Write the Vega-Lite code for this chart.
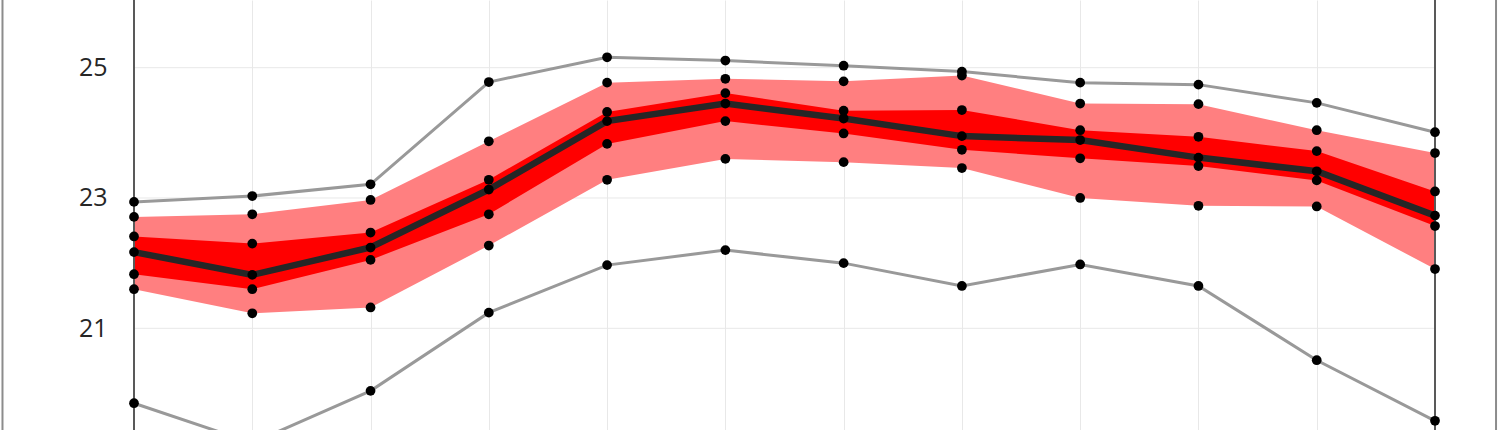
{
  "$schema": "https://vega.github.io/schema/vega-lite/v6.json",
  "autosize": "none",
  "width": 1301,
  "height": 430,
  "padding": {"left": 134, "top": 0, "right": 65, "bottom": 0},
  "background": "white",
  "config": {
    "view": {"stroke": null},
    "font": "Open Sans",
    "axisX": {"grid": true, "gridColor": "#e8e8e8", "gridWidth": 1, "labels": false, "ticks": false, "domain": false, "title": null},
    "axisY": {"grid": false, "domain": false, "ticks": false, "labelFontSize": 25, "labelFont": "Open Sans", "labelFontWeight": "normal", "labelColor": "#262626", "labelPadding": 27, "title": null}
  },
  "datasets": {
    "stats": [
      {"month": 1, "max": 22.94, "p90": 22.71, "p75": 22.41, "median": 22.17, "p25": 21.83, "p10": 21.60, "min": 19.85},
      {"month": 2, "max": 23.03, "p90": 22.75, "p75": 22.30, "median": 21.82, "p25": 21.60, "p10": 21.23, "min": 19.24},
      {"month": 3, "max": 23.21, "p90": 22.97, "p75": 22.47, "median": 22.24, "p25": 22.05, "p10": 21.32, "min": 20.04},
      {"month": 4, "max": 24.78, "p90": 23.87, "p75": 23.28, "median": 23.13, "p25": 22.75, "p10": 22.27, "min": 21.24},
      {"month": 5, "max": 25.16, "p90": 24.77, "p75": 24.32, "median": 24.18, "p25": 23.83, "p10": 23.28, "min": 21.97},
      {"month": 6, "max": 25.11, "p90": 24.83, "p75": 24.61, "median": 24.45, "p25": 24.18, "p10": 23.60, "min": 22.20},
      {"month": 7, "max": 25.03, "p90": 24.79, "p75": 24.34, "median": 24.22, "p25": 23.99, "p10": 23.55, "min": 22.00},
      {"month": 8, "max": 24.94, "p90": 24.88, "p75": 24.35, "median": 23.95, "p25": 23.74, "p10": 23.46, "min": 21.65},
      {"month": 9, "max": 24.77, "p90": 24.45, "p75": 24.04, "median": 23.89, "p25": 23.61, "p10": 23.00, "min": 21.98},
      {"month": 10, "max": 24.74, "p90": 24.44, "p75": 23.94, "median": 23.62, "p25": 23.49, "p10": 22.88, "min": 21.65},
      {"month": 11, "max": 24.46, "p90": 24.04, "p75": 23.72, "median": 23.41, "p25": 23.27, "p10": 22.87, "min": 20.51},
      {"month": 12, "max": 24.01, "p90": 23.69, "p75": 23.10, "median": 22.73, "p25": 22.57, "p10": 21.91, "min": 19.58}
    ],
    "gridY": [{"y": 21}, {"y": 23}, {"y": 25}],
    "frame": [
      {"x": -0.112, "kind": "outer"},
      {"x": 12.516, "kind": "outer"},
      {"x": 1, "kind": "plot"},
      {"x": 12, "kind": "plot"}
    ]
  },
  "layer": [
    {
      "data": {"name": "gridY"},
      "mark": {"type": "rule", "color": "#e8e8e8", "strokeWidth": 1},
      "encoding": {
        "x": {"datum": 1, "type": "quantitative", "scale": {"domain": [1, 12], "nice": false, "zero": false}, "axis": {"values": [1,2,3,4,5,6,7,8,9,10,11,12]}},
        "x2": {"datum": 12},
        "y": {"field": "y", "type": "quantitative", "scale": {"domain": [19.439, 26.039], "nice": false, "zero": false}, "axis": {"values": [21, 23, 25], "format": "d"}}
      }
    },
    {
      "data": {"name": "stats"},
      "mark": {"type": "area", "color": "#ff7f80", "opacity": 1},
      "encoding": {
        "x": {"field": "month", "type": "quantitative"},
        "y": {"field": "p10", "type": "quantitative"},
        "y2": {"field": "p90"}
      }
    },
    {
      "data": {"name": "stats"},
      "mark": {"type": "area", "color": "#ff0000", "opacity": 1},
      "encoding": {
        "x": {"field": "month", "type": "quantitative"},
        "y": {"field": "p25", "type": "quantitative"},
        "y2": {"field": "p75"}
      }
    },
    {
      "data": {"name": "stats"},
      "mark": {"type": "line", "color": "#999999", "strokeWidth": 3},
      "encoding": {
        "x": {"field": "month", "type": "quantitative"},
        "y": {"field": "max", "type": "quantitative"}
      }
    },
    {
      "data": {"name": "stats"},
      "mark": {"type": "line", "color": "#999999", "strokeWidth": 3},
      "encoding": {
        "x": {"field": "month", "type": "quantitative"},
        "y": {"field": "min", "type": "quantitative"}
      }
    },
    {
      "data": {"name": "stats"},
      "mark": {"type": "line", "color": "#262626", "strokeWidth": 6.5},
      "encoding": {
        "x": {"field": "month", "type": "quantitative"},
        "y": {"field": "median", "type": "quantitative"}
      }
    },
    {
      "data": {"name": "frame"},
      "mark": {"type": "rule"},
      "encoding": {
        "x": {"field": "x", "type": "quantitative"},
        "color": {"field": "kind", "type": "nominal", "scale": {"domain": ["outer", "plot"], "range": ["#8c8c8c", "#595959"]}, "legend": null},
        "strokeWidth": {"field": "kind", "type": "nominal", "scale": {"domain": ["outer", "plot"], "range": [2, 2]}, "legend": null}
      }
    },
    {
      "data": {"name": "stats"},
      "transform": [{"fold": ["max", "p90", "p75", "median", "p25", "p10", "min"], "as": ["stat", "value"]}],
      "mark": {"type": "circle", "color": "black", "opacity": 1, "size": 95},
      "encoding": {
        "x": {"field": "month", "type": "quantitative"},
        "y": {"field": "value", "type": "quantitative"}
      }
    }
  ]
}
